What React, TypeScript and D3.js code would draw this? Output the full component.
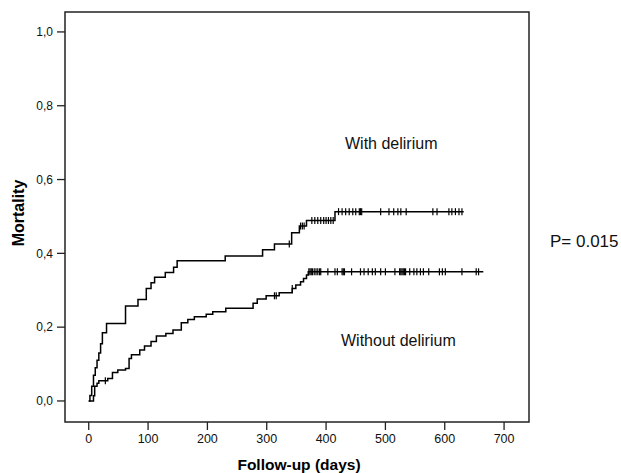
import React from 'react';
import * as d3 from 'd3';

// With delirium: event days and cumulative mortality
const withDays = [0, 2, 5, 8, 11, 14, 17, 20, 23, 30, 62, 83, 97, 105, 111, 129, 143, 149, 230, 293, 313, 342, 355, 367, 415];
const withMortality = [0, 0.015, 0.04, 0.07, 0.09, 0.11, 0.13, 0.155, 0.185, 0.21, 0.257, 0.275, 0.305, 0.32, 0.335, 0.348, 0.362, 0.38, 0.393, 0.41, 0.425, 0.456, 0.474, 0.489, 0.513];
const withEnd = 632;
const withCensored = [338, 357, 360, 363, 376, 381, 386, 391, 396, 400, 404, 408, 412, 421, 427, 433, 439, 445, 450, 456, 458, 460, 492, 506, 514, 521, 526, 535, 580, 587, 607, 612, 618, 624, 629];

// Without delirium
const withoutDays = [0, 8, 10, 14, 17, 32, 40, 49, 62, 68, 72, 86, 94, 105, 114, 130, 142, 156, 167, 178, 198, 209, 231, 277, 284, 299, 321, 343, 349, 357, 362, 367, 370];
const withoutMortality = [0, 0.014, 0.04, 0.048, 0.055, 0.061, 0.077, 0.084, 0.088, 0.115, 0.125, 0.138, 0.149, 0.161, 0.176, 0.183, 0.192, 0.212, 0.221, 0.228, 0.235, 0.242, 0.251, 0.265, 0.276, 0.285, 0.293, 0.305, 0.314, 0.323, 0.332, 0.341, 0.35];
const withoutEnd = 665;
const withoutCensored = [28, 313, 316, 343, 371, 373, 375, 377, 380, 383, 386, 389, 391, 403, 415, 419, 427, 429, 431, 443, 458, 464, 471, 478, 483, 492, 500, 516, 524, 526, 528, 530, 532, 534, 541, 548, 553, 559, 564, 573, 591, 596, 601, 629, 653, 657];

const xTicks = [0, 100, 200, 300, 400, 500, 600, 700];
const yTicks = [0, 0.2, 0.4, 0.6, 0.8, 1.0];
const yTickLabels = ['0,0', '0,2', '0,4', '0,6', '0,8', '1,0'];

const FONT = '"Liberation Sans", Arial, sans-serif';

function valueAt(days: number[], vals: number[], t: number) {
  let v = vals[0];
  for (let i = 0; i < days.length; i++) if (days[i] <= t) v = vals[i];
  return v;
}

export default function App() {
  const W = 621;
  const H = 473;
  const x = d3.scaleLinear().domain([-40, 742]).range([65, 529]);
  const y = d3.scaleLinear().domain([-0.057, 1.054]).range([422, 12]);
  const line = d3
    .line<[number, number]>()
    .x((d) => x(d[0]))
    .y((d) => y(d[1]))
    .curve(d3.curveStepAfter);

  const series = [
    { days: withDays, vals: withMortality, end: withEnd, cens: withCensored },
    { days: withoutDays, vals: withoutMortality, end: withoutEnd, cens: withoutCensored },
  ];

  return (
    <svg
      width={W}
      height={H}
      style={{ position: 'absolute', left: 0, top: 0, background: '#fff' }}
      fontFamily={FONT}
    >
      <rect x={0} y={0} width={W} height={H} fill="#fff" />
      {series.map((s, i) => {
        const pts: [number, number][] = s.days.map((d, j) => [d, s.vals[j]] as [number, number]);
        pts.push([s.end, s.vals[s.vals.length - 1]]);
        return (
          <g key={i}>
            <path d={line(pts) || ''} fill="none" stroke="#000" strokeWidth={1.5} />
            {s.cens.map((c, k) => {
              const v = valueAt(s.days, s.vals, c);
              return (
                <line key={k} x1={x(c)} x2={x(c)} y1={y(v) - 3.5} y2={y(v) + 3.5} stroke="#000" strokeWidth={1.2} />
              );
            })}
          </g>
        );
      })}
      {/* frame */}
      <rect x={65} y={12} width={464} height={410} fill="none" stroke="#222" strokeWidth={1.5} />
      {/* y axis */}
      {yTicks.map((t, i) => (
        <g key={i}>
          <line x1={57} x2={65} y1={y(t)} y2={y(t)} stroke="#222" strokeWidth={1.3} />
          <text x={53} y={y(t)} dy="0.35em" textAnchor="end" fontSize={12} fill="#111">
            {yTickLabels[i]}
          </text>
        </g>
      ))}
      {/* x axis */}
      {xTicks.map((t, i) => (
        <g key={i}>
          <line x1={x(t)} x2={x(t)} y1={422} y2={430} stroke="#222" strokeWidth={1.3} />
          <text x={x(t)} y={443} textAnchor="middle" fontSize={12.5} fill="#111">
            {t}
          </text>
        </g>
      ))}
      <text x={299} y={470} textAnchor="middle" fontSize={15.5} fontWeight="bold" fill="#000">
        Follow-up (days)
      </text>
      <text
        transform={`translate(24,213) rotate(-90)`}
        textAnchor="middle"
        fontSize={16}
        fontWeight="bold"
        fill="#000"
      >
        Mortality
      </text>
      <text x={345} y={149} fontSize={16} fill="#111">
        With delirium
      </text>
      <text x={341} y={346} fontSize={16} fill="#111">
        Without delirium
      </text>
      <text x={550} y={247} fontSize={17} fill="#111">
        P= 0.015
      </text>
    </svg>
  );
}
